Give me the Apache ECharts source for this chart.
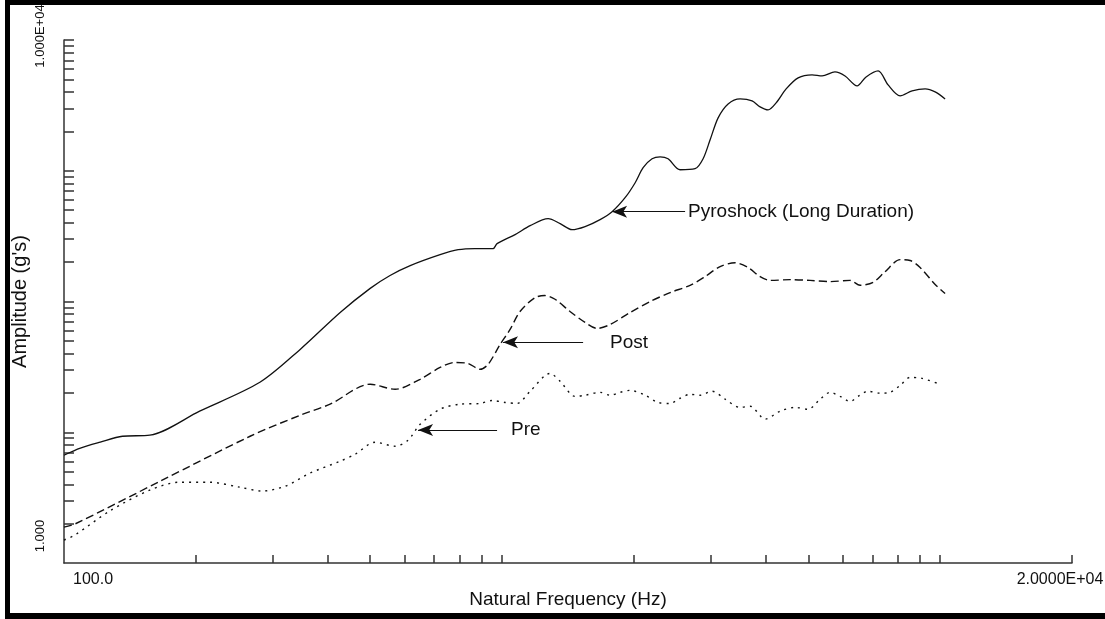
<!DOCTYPE html>
<html><head><meta charset="utf-8">
<script src="https://cdn.jsdelivr.net/npm/echarts@6/dist/echarts.min.js"></script>
<style>html,body{margin:0;padding:0;background:#fff}#c{width:1105px;height:619px}</style>
</head><body><div id="c"></div>
<script>
// Pyroshock (Long Duration) — [frequency Hz, amplitude g]
const pyroData = [[100,6.67],[109,7.55],[121,8.39],[136,9.32],[157,9.49],[204,14.5],[280,24.1],[346,43.0],[427,82.4],[500,126],[555,158],[617,188],[722,228],[794,249],[867,254],[954,254],[974,277],[1071,325],[1159,380],[1274,430],[1357,394],[1445,354],[1547,374],[1674,423],[1783,486],[1909,622],[2013,810],[2099,1055],[2200,1235],[2295,1279],[2393,1235],[2549,1018],[2758,1036],[2877,1235],[2985,1724],[3113,2539],[3281,3245],[3495,3544],[3722,3422],[3882,3080],[4049,2921],[4223,3305],[4451,4225],[4741,5130],[5102,5410],[5377,5310],[5754,5700],[6067,5310],[6463,4455],[6776,5220],[7219,5800],[7607,4535],[8102,3737],[8630,4080],[9243,4225],[9741,4010],[10265,3544]];
// Post
const postData = [[100,1.88],[106,1.99],[166,4.23],[266,9.32],[346,13.5],[405,16.4],[500,23.3],[570,21.3],[650,25.4],[722,31.3],[781,34.2],[836,33.6],[891,30.3],[929,33.0],[990,47.0],[1043,61.1],[1099,83.9],[1189,107],[1253,111],[1321,104],[1429,83.9],[1547,69.2],[1648,62.2],[1765,66.7],[1960,82.4],[2178,100],[2419,117],[2687,133],[2907,155],[3146,185],[3404,198],[3644,182],[3882,155],[4093,145],[4545,147],[5048,145],[5609,142],[6230,145],[6566,133],[7031,140],[7488,169],[8102,209],[8541,206],[9001,182],[9741,135],[10265,115]];
// Pre
const preData = [[100,1.50],[106,1.64],[127,2.49],[157,3.61],[184,4.15],[215,4.15],[252,3.80],[283,3.55],[320,3.87],[364,4.86],[427,6.01],[462,6.79],[513,8.39],[570,7.82],[610,8.69],[650,11.5],[722,15.0],[802,16.4],[891,16.6],[949,17.5],[1016,16.9],[1082,16.6],[1159,20.6],[1287,28.2],[1357,24.5],[1468,18.8],[1547,19.2],[1674,20.2],[1765,19.2],[1860,20.2],[1960,20.9],[2121,19.2],[2270,16.9],[2419,16.6],[2549,18.2],[2687,19.5],[2831,19.2],[3017,20.6],[3230,17.9],[3495,15.5],[3684,15.8],[3986,12.6],[4313,14.5],[4667,15.5],[4995,15.0],[5321,17.9],[5609,20.2],[5911,18.8],[6230,17.2],[6497,18.8],[6848,20.6],[7295,19.9],[7688,20.2],[8102,22.8],[8541,26.3],[9100,25.8],[10000,23.3]];

// annotation arrows: [tip, tail] in data units, and label text
const pyroArrow = [[1783,486],[2617,486]];
const postArrow = [[1005,48.7],[1531,48.7]];
const preArrow = [[643,10.4],[974,10.4]];
const seriesNames = ['Pyroshock (Long Duration)','Post','Pre'];

const xTickValues = [200,300,400,500,600,700,800,900,1000,2000,3000,4000,5000,6000,7000,8000,9000,10000,20000];
const yTickValues = [2,3,4,5,6,7,8,9,10,20,30,40,50,60,70,80,90,100,200,300,400,500,600,700,800,900,1000,2000,3000,4000,5000,6000,7000,8000,9000,10000];
const xLabelValues = [100,20000];
const xLabelTexts = ['100.0','2.0000E+04'];
const yLabelValues = [1,10000];
const yLabelTexts = ['1.000','1.000E+04'];

const FONT = 'Liberation Sans, Arial, Helvetica, sans-serif';
const ink = '#111';

function arrowLine(pts, text, dist){
  return {
    silent:true, animation:false,
    symbol:['arrow','none'], symbolSize:[9,15],
    lineStyle:{type:'solid', color:ink, width:1.2},
    label:{show:true, position:'end', formatter:text, color:ink, fontSize:19, fontFamily:FONT, distance:dist},
    data:[[{coord:pts[0]},{coord:pts[1]}]]
  };
}

const chart = echarts.init(document.getElementById('c'), null, {renderer:'canvas'});
chart.setOption({
  animation:false,
  backgroundColor:'#fff',
  grid:{left:64, right:33, top:40, bottom:56, containLabel:false, outerBoundsMode:'none'},
  xAxis:{
    type:'log', logBase:10, min:100, max:20000,
    name:'Natural Frequency (Hz)', nameLocation:'middle', nameGap:27, nameMoveOverlap:false,
    nameTextStyle:{color:ink, fontSize:19, fontFamily:FONT},
    axisLine:{show:true, onZero:false, lineStyle:{color:'#333', width:1.5}},
    axisTick:{show:true, inside:true, length:8, customValues:xTickValues, lineStyle:{color:'#333', width:1.5}},
    minorTick:{show:false},
    splitLine:{show:false},
    axisLabel:{show:true, customValues:xLabelValues, color:ink, fontSize:16, fontFamily:FONT, margin:9,
      alignMinLabel:'left', alignMaxLabel:'center',
      formatter:function(v){ const i = xLabelValues.indexOf(v); return i===0 ? '{a|'+xLabelTexts[0]+'}' : '{b|'+xLabelTexts[1]+'}'; },
      rich:{a:{padding:[0,0,0,9], fontSize:16, fontFamily:FONT, color:ink}, b:{padding:[0,24,0,0], fontSize:16, fontFamily:FONT, color:ink}}
    }
  },
  yAxis:{
    type:'log', logBase:10, min:1, max:10000,
    name:"Amplitude (g's)", nameLocation:'middle', nameGap:34, nameMoveOverlap:false,
    nameTextStyle:{color:ink, fontSize:20, fontFamily:FONT},
    axisLine:{show:true, onZero:false, lineStyle:{color:'#333', width:1.5}},
    axisTick:{show:true, inside:true, length:10, customValues:yTickValues, lineStyle:{color:'#333', width:1.5}},
    minorTick:{show:false},
    splitLine:{show:false},
    axisLabel:{show:true, customValues:yLabelValues, rotate:90, color:ink, fontSize:13, fontFamily:FONT, margin:17,
      formatter:function(v){ const i = yLabelValues.indexOf(v); return i===0 ? '{a|'+yLabelTexts[0]+'}' : '{b|'+yLabelTexts[1]+'}'; },
      rich:{a:{padding:[0,0,0,54], fontSize:13, fontFamily:FONT, color:ink}, b:{padding:[0,0,0,8], fontSize:13, fontFamily:FONT, color:ink}}
    }
  },
  series:[
    {name:seriesNames[0], type:'line', data:pyroData, smooth:0.3, showSymbol:false, lineStyle:{color:ink, width:1.3, type:'solid'}, markLine:arrowLine(pyroArrow, seriesNames[0], 3)},
    {name:seriesNames[1], type:'line', data:postData, smooth:0.3, showSymbol:false, lineStyle:{color:ink, width:1.4, type:[8,4]}, markLine:arrowLine(postArrow, seriesNames[1], 27)},
    {name:seriesNames[2], type:'line', data:preData, smooth:0.3, showSymbol:false, lineStyle:{color:ink, width:1.4, type:[2,5]}, markLine:arrowLine(preArrow, seriesNames[2], 14)}
  ],
  graphic:[
    {type:'rect', shape:{x:5, y:0, width:5, height:619}, style:{fill:'#000'}, silent:true},
    {type:'rect', shape:{x:5, y:0, width:1100, height:5}, style:{fill:'#000'}, silent:true},
    {type:'rect', shape:{x:5, y:613, width:1100, height:6}, style:{fill:'#000'}, silent:true}
  ]
});
</script></body></html>
